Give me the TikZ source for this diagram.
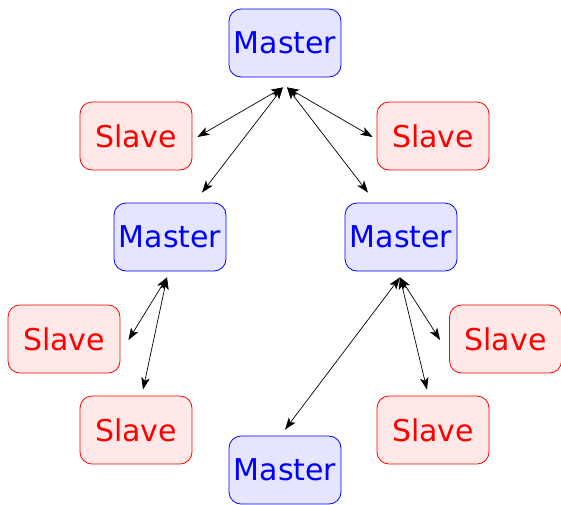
\documentclass[tikz,border=0pt]{standalone}
\usepackage{fontspec}
\setmainfont{DejaVu Sans}
\usetikzlibrary{arrows.meta,calc}
\begin{document}
\begin{tikzpicture}[x=1pt,y=-1pt,
  box/.style={rounded corners=12pt,minimum width=112pt,minimum height=68pt,inner sep=0pt,line width=0.8pt,font=\fontsize{30}{35}\selectfont},
  mnode/.style={box,draw=blue,fill=blue!10,text=blue},
  snode/.style={box,draw=red,fill=red!9,text=red},
  tip/.tip={Stealth[length=12pt,width=8.5pt,inset=3pt]},
  link/.style={line width=0.7pt,tip-tip}]
\useasboundingbox (0,0) rectangle (561,504);
\node[mnode] (m1) at (285,43) {Master};
\node[snode] (s1) at (136,136) {Slave};
\node[snode] (s2) at (433,136) {Slave};
\node[mnode] (m2) at (170,237) {Master};
\node[mnode] (m3) at (401,237) {Master};
\node[snode] (s3) at (64,339) {Slave};
\node[snode] (s4) at (136,430) {Slave};
\node[mnode] (m4) at (285,470) {Master};
\node[snode] (s5) at (505.5,339) {Slave};
\node[snode] (s6) at (433,430) {Slave};
\draw[link] ($(m1.south)+(-2,10)$) -- ($(s1.east)+(5,1)$);
\draw[link] ($(m1.south)+(-2,10)$) -- ($(m2.north)+(32,-10)$);
\draw[link] ($(m1.south)+(2,10)$) -- ($(s2.west)+(-4,1)$);
\draw[link] ($(m1.south)+(2,10)$) -- ($(m3.north)+(-33,-10)$);
\draw[link] ($(m2.south)+(-3,6)$) -- ($(s3.east)+(8,1)$);
\draw[link] ($(m2.south)+(-3,6)$) -- ($(s4.north)+(7,-6)$);
\draw[link] ($(m3.south)+(-1,6)$) -- ($(m4.north)+(0,-6)$);
\draw[link] ($(m3.south)+(-1,6)$) -- ($(s5.west)+(-9,1)$);
\draw[link] ($(m3.south)+(-1,6)$) -- ($(s6.north)+(-6,-6)$);
\end{tikzpicture}
\end{document}
